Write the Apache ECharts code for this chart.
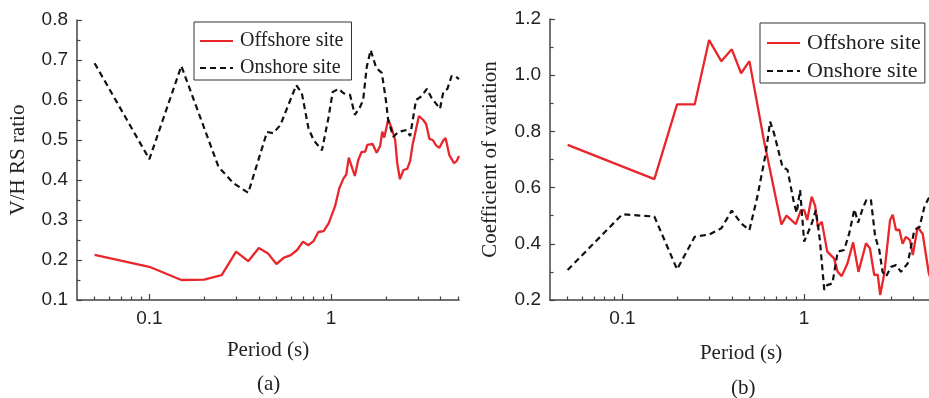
<!DOCTYPE html>
<html>
<head>
<meta charset="utf-8">
<script src="https://cdn.jsdelivr.net/npm/echarts@6/dist/echarts.min.js"></script>
<style>html,body{margin:0;padding:0;background:#fff}#c{width:929px;height:398px}</style>
</head>
<body>
<div id="c"></div>
<script>
// Panel (a): V/H RS ratio
const aOffX = [0.05,0.1,0.15,0.2,0.25,0.3,0.35,0.4,0.45,0.5,0.55,0.6,0.65,0.7,0.75,0.8,0.85,0.91,0.97,1.05,1.11,1.17,1.21,1.25,1.35,1.41,1.47,1.54,1.58,1.69,1.78,1.86,1.91,1.96,2.06,2.15,2.25,2.31,2.39,2.5,2.62,2.72,2.81,2.87,3.04,3.21,3.33,3.47,3.62,3.77,3.93,4.14,4.26,4.47,4.74,4.9,5.05];
const aOffY = [0.213,0.183,0.15,0.151,0.162,0.221,0.197,0.23,0.216,0.19,0.206,0.212,0.225,0.246,0.237,0.247,0.27,0.272,0.292,0.334,0.38,0.404,0.413,0.456,0.41,0.45,0.47,0.471,0.488,0.49,0.468,0.485,0.521,0.506,0.551,0.53,0.5,0.442,0.402,0.425,0.428,0.448,0.49,0.508,0.56,0.55,0.54,0.503,0.5,0.487,0.48,0.499,0.505,0.462,0.442,0.447,0.46];
const aOnX = [0.05,0.1,0.15,0.24,0.29,0.35,0.444,0.48,0.525,0.643,0.69,0.75,0.8,0.89,0.966,1.02,1.1,1.17,1.27,1.35,1.44,1.5,1.57,1.65,1.77,1.9,2.0,2.06,2.2,2.34,2.6,2.72,2.93,3.15,3.36,3.57,3.97,4.14,4.36,4.6,4.8,5.05];
const aOnY = [0.692,0.452,0.685,0.433,0.392,0.368,0.52,0.517,0.537,0.637,0.617,0.53,0.5,0.474,0.555,0.62,0.628,0.617,0.613,0.563,0.582,0.6,0.683,0.725,0.68,0.668,0.6,0.549,0.508,0.52,0.525,0.51,0.6,0.61,0.628,0.605,0.578,0.62,0.628,0.66,0.66,0.652];
// Panel (b): Coefficient of variation
const bOffX = [0.05,0.15,0.2,0.25,0.3,0.35,0.4,0.45,0.5,0.6,0.7,0.75,0.8,0.9,0.96,1.0,1.04,1.1,1.15,1.19,1.25,1.34,1.46,1.53,1.61,1.73,1.86,1.99,2.19,2.3,2.43,2.54,2.62,2.76,2.97,3.07,3.2,3.34,3.48,3.63,3.82,3.96,4.21,4.49,4.85,5.05];
const bOffY = [0.752,0.63,0.896,0.896,1.125,1.05,1.092,1.007,1.05,0.77,0.56,0.469,0.5,0.47,0.52,0.52,0.485,0.568,0.535,0.46,0.479,0.372,0.348,0.3,0.285,0.33,0.405,0.3,0.402,0.384,0.289,0.29,0.218,0.295,0.485,0.503,0.449,0.45,0.4,0.425,0.413,0.36,0.46,0.435,0.295,0.26];
const bOnX = [0.05,0.1,0.15,0.2,0.25,0.3,0.35,0.4,0.45,0.5,0.553,0.615,0.65,0.683,0.76,0.81,0.88,0.91,0.95,1.0,1.065,1.11,1.16,1.22,1.29,1.34,1.43,1.53,1.66,1.77,1.89,1.98,2.1,2.2,2.33,2.46,2.59,2.7,2.82,3.01,3.2,3.41,3.71,4.04,4.31,4.59,4.83,5.05];
const bOnY = [0.307,0.505,0.497,0.309,0.425,0.433,0.455,0.518,0.473,0.449,0.568,0.722,0.835,0.793,0.674,0.663,0.544,0.51,0.591,0.408,0.449,0.479,0.52,0.414,0.236,0.253,0.259,0.372,0.378,0.437,0.523,0.475,0.526,0.556,0.556,0.425,0.378,0.3,0.283,0.318,0.324,0.3,0.33,0.449,0.46,0.532,0.561,0.58];
const xMajorTicks = [0.1, 1];
const xMinorTicks = [0.05,0.06,0.07,0.08,0.09,0.2,0.3,0.4,0.5,0.6,0.7,0.8,0.9,2,3,4,5];
const seriesNames = ['Offshore site','Onshore site'];

const zip = (xs, ys) => xs.map((x, i) => [x, ys[i]]);
const axisColor = '#444';
const SANS = 'Liberation Sans, Arial, sans-serif';
const SERIF = 'Liberation Serif, Times New Roman, serif';
const XMIN = 0.04, XMAX = 5.05;
const LMIN = Math.log10(XMIN), LMAX = Math.log10(XMAX);

function xAxes(gi, gap) {
  return [
    // data axis (log scale) with labels
    { type: 'log', gridIndex: gi, min: XMIN, max: XMAX, logBase: 10,
      name: 'Period (s)', nameLocation: 'middle', nameGap: gap,
      nameTextStyle: { fontFamily: SERIF, fontSize: 21, color: '#222' },
      axisLine: { onZero: false, lineStyle: { color: axisColor, width: 1.5 } },
      axisTick: { show: false },
      axisLabel: { customValues: xMajorTicks,
                   fontFamily: SANS, fontSize: 19, color: '#222', margin: 9,
                   formatter: v => String(+(+v).toPrecision(3)) },
      minorTick: { show: false }, splitLine: { show: false } },
    // tick-only axes positioned in log10 space
    { type: 'value', gridIndex: gi, min: LMIN, max: LMAX, position: 'bottom',
      axisLine: { show: false, onZero: false },
      axisTick: { show: true, inside: true, length: 6, customValues: xMajorTicks.map(Math.log10), lineStyle: { color: axisColor, width: 1.2 } },
      axisLabel: { show: false }, splitLine: { show: false } },
    { type: 'value', gridIndex: gi, min: LMIN, max: LMAX, position: 'bottom',
      axisLine: { show: false, onZero: false },
      axisTick: { show: true, inside: true, length: 3.5, customValues: xMinorTicks.map(Math.log10), lineStyle: { color: axisColor, width: 1.2 } },
      axisLabel: { show: false }, splitLine: { show: false } }
  ];
}
function yAxis(gi, min, max, itv, title, gap) {
  return { type: 'value', gridIndex: gi, min: min, max: max, interval: itv, position: 'left',
    name: title, nameLocation: 'middle', nameGap: gap,
    nameTextStyle: { fontFamily: SERIF, fontSize: 21, color: '#222' },
    axisLine: { show: true, onZero: false, lineStyle: { color: axisColor, width: 1.5 } },
    axisTick: { show: true, inside: true, length: 5, lineStyle: { color: axisColor, width: 1.2 } },
    minorTick: { show: true, splitNumber: 2, length: 3.5, lineStyle: { color: axisColor, width: 1.2 } },
    axisLabel: { fontFamily: SANS, fontSize: 19, color: '#222', margin: 9, formatter: v => v.toFixed(1) },
    splitLine: { show: false } };
}
function legend(left, top, fs, gap, pad) {
  return { left: left, top: top, orient: 'vertical', data: seriesNames,
    borderColor: '#333', borderWidth: 1, borderRadius: 0, padding: pad, itemGap: gap,
    itemWidth: 33, itemHeight: 14,
    itemStyle: { opacity: 0, borderWidth: 0 },
    textStyle: { fontFamily: SERIF, fontSize: fs, color: '#222', padding: [0, 0, 0, 2] } };
}
const red = '#e8262b';
function mk(name, data, xi, yi, dashed) {
  return { name: name, type: 'line', xAxisIndex: xi, yAxisIndex: yi, data: data,
    symbol: 'none', showSymbol: false, smooth: false, clip: true,
    lineStyle: dashed ? { color: '#111', width: 2.2, type: [6, 4] } : { color: red, width: 2.3 },
    itemStyle: { color: dashed ? '#111' : red } };
}
const chart = echarts.init(document.getElementById('c'), null, { renderer: 'canvas' });
chart.setOption({
  animation: false,
  backgroundColor: '#fff',
  title: [
    { text: '(a)', left: 252, top: 369, textStyle: { fontFamily: SERIF, fontSize: 21, fontWeight: 'normal', color: '#222' } },
    { text: '(b)', left: 726, top: 373, textStyle: { fontFamily: SERIF, fontSize: 21, fontWeight: 'normal', color: '#222' } }
  ],
  legend: [legend(194, 22, 20, 7, [9, 8, 2, 5]), legend(760, 23, 22, 6, [9, 4, 1, 6])],
  grid: [
    { left: 77, top: 20, right: 470, bottom: 98, outerBoundsMode: 'none', containLabel: false },
    { left: 550, top: 19, right: -3, bottom: 98, outerBoundsMode: 'none', containLabel: false }
  ],
  xAxis: xAxes(0, 40).concat(xAxes(1, 43)),
  yAxis: [yAxis(0, 0.1, 0.8, 0.1, 'V/H RS ratio', 48), yAxis(1, 0.2, 1.2, 0.2, 'Coefficient of variation', 49)],
  series: [
    mk(seriesNames[0], zip(aOffX, aOffY), 0, 0, false),
    mk(seriesNames[1], zip(aOnX, aOnY), 0, 0, true),
    mk(seriesNames[0], zip(bOffX, bOffY), 3, 1, false),
    mk(seriesNames[1], zip(bOnX, bOnY), 3, 1, true)
  ]
});
</script>
</body>
</html>
